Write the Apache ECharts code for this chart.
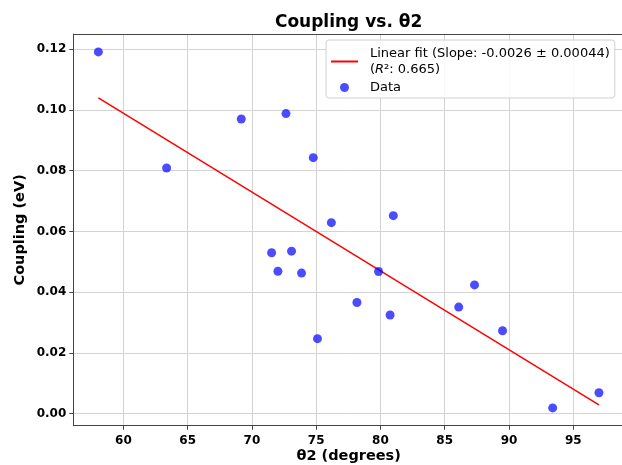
<!DOCTYPE html>
<html>
<head>
<meta charset="utf-8">
<script src="https://cdn.jsdelivr.net/npm/echarts@6/dist/echarts.min.js"></script>
<style>html,body{margin:0;padding:0;background:#fff;}#c{width:622px;height:465px;}</style>
</head>
<body>
<div id="c"></div>
<script>
// Data
const thetaValues = [58.05, 63.36, 69.17, 72.65, 74.77, 76.18, 81.0, 71.53, 73.08, 72.02, 73.86, 79.85, 78.17, 80.75, 75.1, 86.09, 87.32, 89.5, 93.4, 97.0];
const couplingValues = [0.1191, 0.0809, 0.0970, 0.0988, 0.0843, 0.0629, 0.0652, 0.0530, 0.0535, 0.0469, 0.0463, 0.0468, 0.0366, 0.0325, 0.0247, 0.0351, 0.0424, 0.0273, 0.0019, 0.0069];
const fitX = [58.05, 97.0];
const fitY = [0.1040, 0.0029];
const xTicks = [60, 65, 70, 75, 80, 85, 90, 95];
const yTicks = [0.00, 0.02, 0.04, 0.06, 0.08, 0.10, 0.12];
const titleText = 'Coupling vs. θ2';
const xLabel = 'θ2 (degrees)';
const yLabel = 'Coupling (eV)';
const fitName = 'Linear fit';
const dataName = 'Data';

const font = 'DejaVu Sans';
const chart = echarts.init(document.getElementById('c'), null, {renderer: 'canvas'});
const scatterData = thetaValues.map((x, i) => [x, couplingValues[i]]);
const fitData = fitX.map((x, i) => [x, fitY[i]]);
const spine = '#444';
const gridColor = '#d3d3d3';
const xMin = 56.1, xMax = 98.95;

chart.setOption({
  animation: false,
  backgroundColor: '#fff',
  title: {
    text: titleText, left: 348.6, top: 14, textAlign: 'center', padding: 0,
    textStyle: {fontFamily: font, fontWeight: 'bold', fontSize: 17, color: '#000'}
  },
  grid: {left: 73.3, right: -2, top: 34, bottom: 39.3, containLabel: false, outerBoundsMode: 'none'},
  legend: {
    left: 326, top: 40, orient: 'vertical',
    data: [{name: fitName, itemStyle: {opacity: 0}}, {name: dataName}],
    itemWidth: 27, itemHeight: 9, itemGap: 5,
    padding: [7, 5, 4, 4],
    backgroundColor: 'rgba(255,255,255,0.85)', borderColor: '#d0d0d0', borderWidth: 1, borderRadius: 3,
    formatter: function (name) {
      if (name === fitName) {
        return '{n|Linear fit (Slope: -0.0026 ± 0.00044)}\n{n|(}{i|R}{n|²: 0.665)}';
      }
      return '{n|' + name + '}';
    },
    textStyle: {
      padding: [0, 0, 0, 7],
      rich: {
        n: {fontFamily: font, fontSize: 13, lineHeight: 16, color: '#000'},
        i: {fontFamily: font, fontSize: 13, lineHeight: 16, fontStyle: 'italic', color: '#000'}
      }
    }
  },
  xAxis: [{
    type: 'value', min: xMin, max: xMax,
    name: xLabel, nameLocation: 'middle', nameGap: 23, nameMoveOverlap: false,
    nameTextStyle: {fontFamily: font, fontWeight: 'bold', fontSize: 14.5, color: '#000'},
    axisLine: {show: true, onZero: false, lineStyle: {color: spine, width: 1}},
    axisTick: {show: true, inside: false, length: 4, customValues: xTicks, lineStyle: {color: spine}},
    axisLabel: {customValues: xTicks, margin: 9, fontFamily: font, fontWeight: 'bold', fontSize: 12, color: '#000'},
    splitLine: {show: true, lineStyle: {color: gridColor, width: 1}}
  }, {
    type: 'value', min: xMin, max: xMax, position: 'top',
    axisLine: {show: true, onZero: false, lineStyle: {color: spine, width: 1}},
    axisTick: {show: false}, axisLabel: {show: false}, splitLine: {show: false}
  }],
  yAxis: {
    type: 'value', min: -0.00395, max: 0.125,
    name: yLabel, nameLocation: 'middle', nameGap: 46, nameRotate: 90, nameMoveOverlap: false,
    nameTextStyle: {fontFamily: font, fontWeight: 'bold', fontSize: 14.5, color: '#000'},
    axisLine: {show: true, onZero: false, lineStyle: {color: spine, width: 1}},
    axisTick: {show: true, inside: false, length: 4, customValues: yTicks, lineStyle: {color: spine}},
    axisLabel: {customValues: yTicks, margin: 7, fontFamily: font, fontWeight: 'bold', fontSize: 12, color: '#000',
      formatter: v => v.toFixed(2)},
    splitLine: {show: true, lineStyle: {color: gridColor, width: 1}}
  },
  series: [
    {
      name: fitName, type: 'line', data: fitData, symbol: 'none', z: 3, xAxisIndex: 0,
      lineStyle: {color: '#ff0000', width: 1.5}, itemStyle: {color: '#ff0000'}
    },
    {
      name: dataName, type: 'scatter', data: scatterData, symbol: 'circle', symbolSize: 9, z: 4, xAxisIndex: 0,
      itemStyle: {color: '#0000ff', opacity: 0.7}
    }
  ]
});
</script>
</body>
</html>
